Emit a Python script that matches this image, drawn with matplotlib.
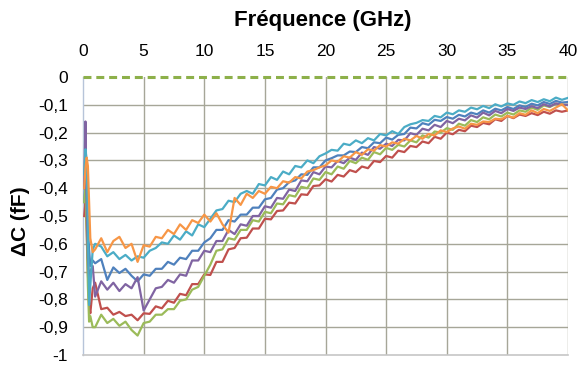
import numpy as np
import matplotlib
matplotlib.use("Agg")
import matplotlib.pyplot as plt

plt.rcParams['font.family'] = ['Liberation Sans', 'DejaVu Sans']

# ---- data ----
freq_start = [0.1, 0.2, 0.3, 0.4, 0.5, 0.6, 0.8, 1.0]
freq_main = list(np.arange(1.5, 40.01, 0.5))  # 78 points, 1.5 ... 40 GHz

blue_start = [-0.45, -0.35, -0.40, -0.55, -0.62, -0.68, -0.66, -0.67]
red_start = [-0.50, -0.45, -0.55, -0.70, -0.82, -0.85, -0.76, -0.74]
green_start = [-0.45, -0.40, -0.55, -0.75, -0.88, -0.86, -0.90, -0.90]
purple_start = [-0.40, -0.16, -0.45, -0.65, -0.72, -0.70, -0.68, -0.79]
cyan_start = [-0.35, -0.26, -0.30, -0.55, -0.82, -0.75, -0.62, -0.60]
orange_start = [-0.40, -0.33, -0.29, -0.32, -0.45, -0.58, -0.63, -0.62]

blue_main = [-0.655, -0.73, -0.685, -0.705, -0.69, -0.715, -0.735, -0.71, -0.715, -0.69,
             -0.69, -0.665, -0.675, -0.65, -0.655, -0.625, -0.625, -0.595, -0.58, -0.55,
             -0.55, -0.515, -0.52, -0.495, -0.495, -0.47, -0.47, -0.44, -0.435, -0.405,
             -0.40, -0.378, -0.372, -0.35, -0.352, -0.325, -0.325, -0.30, -0.292, -0.282,
             -0.282, -0.268, -0.27, -0.252, -0.256, -0.235, -0.238, -0.218, -0.225, -0.208,
             -0.205, -0.182, -0.185, -0.166, -0.172, -0.154, -0.158, -0.144, -0.15, -0.136,
             -0.142, -0.128, -0.134, -0.12, -0.128, -0.114, -0.12, -0.108, -0.115, -0.102,
             -0.108, -0.096, -0.102, -0.09, -0.097, -0.086, -0.092, -0.09]
red_main = [-0.835, -0.83, -0.855, -0.845, -0.86, -0.855, -0.875, -0.85, -0.852, -0.825,
            -0.832, -0.805, -0.812, -0.78, -0.785, -0.745, -0.745, -0.71, -0.712, -0.665,
            -0.665, -0.62, -0.615, -0.58, -0.578, -0.545, -0.545, -0.51, -0.512, -0.482,
            -0.48, -0.452, -0.455, -0.422, -0.424, -0.392, -0.39, -0.368, -0.376, -0.352,
            -0.358, -0.335, -0.342, -0.322, -0.328, -0.302, -0.306, -0.284, -0.29, -0.265,
            -0.27, -0.248, -0.252, -0.232, -0.238, -0.215, -0.222, -0.2, -0.206, -0.19,
            -0.195, -0.175, -0.18, -0.165, -0.17, -0.152, -0.158, -0.14, -0.148, -0.135,
            -0.14, -0.13, -0.137, -0.125, -0.132, -0.12, -0.125, -0.12]
green_main = [-0.855, -0.885, -0.87, -0.895, -0.88, -0.91, -0.93, -0.885, -0.88, -0.855,
              -0.855, -0.835, -0.835, -0.805, -0.80, -0.765, -0.755, -0.715, -0.675, -0.625,
              -0.62, -0.58, -0.585, -0.55, -0.55, -0.515, -0.52, -0.485, -0.49, -0.455,
              -0.458, -0.425, -0.43, -0.395, -0.40, -0.365, -0.37, -0.342, -0.35, -0.322,
              -0.33, -0.302, -0.31, -0.29, -0.298, -0.27, -0.278, -0.255, -0.262, -0.244,
              -0.25, -0.228, -0.235, -0.21, -0.218, -0.196, -0.2, -0.184, -0.19, -0.168,
              -0.175, -0.155, -0.162, -0.145, -0.152, -0.135, -0.142, -0.128, -0.135, -0.12,
              -0.125, -0.11, -0.118, -0.102, -0.108, -0.096, -0.1, -0.1]
purple_main = [-0.735, -0.765, -0.74, -0.77, -0.745, -0.76, -0.72, -0.84, -0.80, -0.76,
               -0.755, -0.73, -0.74, -0.71, -0.715, -0.66, -0.66, -0.625, -0.63, -0.59,
               -0.59, -0.55, -0.565, -0.53, -0.535, -0.50, -0.50, -0.465, -0.47, -0.435,
               -0.438, -0.405, -0.41, -0.372, -0.375, -0.342, -0.35, -0.322, -0.325, -0.302,
               -0.31, -0.29, -0.298, -0.272, -0.28, -0.252, -0.258, -0.24, -0.248, -0.226,
               -0.228, -0.202, -0.208, -0.186, -0.192, -0.172, -0.18, -0.158, -0.166, -0.15,
               -0.156, -0.138, -0.146, -0.128, -0.138, -0.122, -0.13, -0.115, -0.122, -0.11,
               -0.115, -0.105, -0.112, -0.098, -0.106, -0.095, -0.1, -0.1]
cyan_main = [-0.61, -0.645, -0.63, -0.655, -0.64, -0.66, -0.645, -0.65, -0.625, -0.615,
             -0.595, -0.60, -0.57, -0.585, -0.555, -0.57, -0.53, -0.54, -0.51, -0.48,
             -0.475, -0.445, -0.45, -0.42, -0.41, -0.42, -0.385, -0.39, -0.36, -0.37,
             -0.34, -0.35, -0.32, -0.325, -0.30, -0.31, -0.285, -0.275, -0.262, -0.265,
             -0.24, -0.245, -0.228, -0.238, -0.22, -0.228, -0.205, -0.21, -0.195, -0.205,
             -0.18, -0.17, -0.165, -0.155, -0.158, -0.14, -0.145, -0.128, -0.134, -0.12,
             -0.125, -0.11, -0.116, -0.104, -0.112, -0.098, -0.106, -0.095, -0.1, -0.088,
             -0.094, -0.083, -0.09, -0.08, -0.087, -0.074, -0.082, -0.075]
orange_main = [-0.58, -0.63, -0.59, -0.575, -0.615, -0.60, -0.665, -0.605, -0.61, -0.575,
               -0.58, -0.55, -0.565, -0.53, -0.55, -0.515, -0.525, -0.495, -0.52, -0.49,
               -0.53, -0.56, -0.435, -0.46, -0.42, -0.435, -0.41, -0.42, -0.395, -0.40,
               -0.375, -0.38, -0.36, -0.365, -0.34, -0.335, -0.325, -0.318, -0.30, -0.305,
               -0.285, -0.29, -0.27, -0.28, -0.26, -0.265, -0.245, -0.25, -0.235, -0.24,
               -0.222, -0.228, -0.212, -0.222, -0.205, -0.21, -0.192, -0.198, -0.185, -0.178,
               -0.186, -0.168, -0.172, -0.16, -0.162, -0.15, -0.152, -0.14, -0.146, -0.13,
               -0.136, -0.12, -0.13, -0.115, -0.122, -0.11, -0.098, -0.12]

zero_x = [0, 40]
zero_y = [0, 0]

x_ticks = [0, 5, 10, 15, 20, 25, 30, 35, 40]
y_ticks = [0, -0.1, -0.2, -0.3, -0.4, -0.5, -0.6, -0.7, -0.8, -0.9, -1]
y_tick_labels = ["0", "-0,1", "-0,2", "-0,3", "-0,4", "-0,5", "-0,6", "-0,7", "-0,8", "-0,9", "-1"]

series = [
    (blue_start, blue_main, "#4F81BD"),
    (red_start, red_main, "#C0504D"),
    (green_start, green_main, "#9BBB59"),
    (purple_start, purple_main, "#8064A2"),
    (cyan_start, cyan_main, "#4BACC6"),
    (orange_start, orange_main, "#F79646"),
]

fig = plt.figure(figsize=(5.79, 3.65), dpi=100)
ax = fig.add_axes([0.1434, 0.0274, 0.8376, 0.7616])

ax.set_xlim(0, 40)
ax.set_ylim(-1, 0)

for v in x_ticks[1:]:
    ax.axvline(v, color="#a6a698", lw=1.0, zorder=1)
for v in y_ticks[1:-1]:
    ax.axhline(v, color="#a6a698", lw=1.0, zorder=1)

for s_start, s_main, col in series:
    xs = freq_start + freq_main
    ys = s_start + s_main
    ax.plot(xs, ys, color=col, lw=1.6, zorder=3, solid_joinstyle='round')

ax.plot(zero_x, zero_y, color="#8DB04A", lw=2.2, linestyle=(0, (2.6, 1.6)),
        zorder=4, clip_on=False)

ax.xaxis.tick_top()
ax.set_xticks(x_ticks)
ax.set_xticklabels([str(v) for v in x_ticks])
ax.set_yticks(y_ticks)
ax.set_yticklabels(y_tick_labels)
ax.tick_params(axis='x', length=0, pad=13, labelsize=12.5, colors='#000000')
ax.tick_params(axis='y', length=0, pad=11, labelsize=12.5, colors='#000000')

for side in ("top", "right"):
    ax.spines[side].set_visible(False)
ax.spines["left"].set_color("#b7c4d9")
ax.spines["left"].set_linewidth(1.0)
ax.spines["bottom"].set_color("#c6c6c6")
ax.spines["bottom"].set_linewidth(1.2)

fig.text(0.558, 0.945, "Fréquence (GHz)", ha="center", va="center",
         fontsize=16, fontweight="bold")
fig.text(0.036, 0.393, "ΔC (fF)", ha="center", va="center", rotation=90,
         fontsize=15, fontweight="bold")

fig.savefig("out.png", dpi=100)
